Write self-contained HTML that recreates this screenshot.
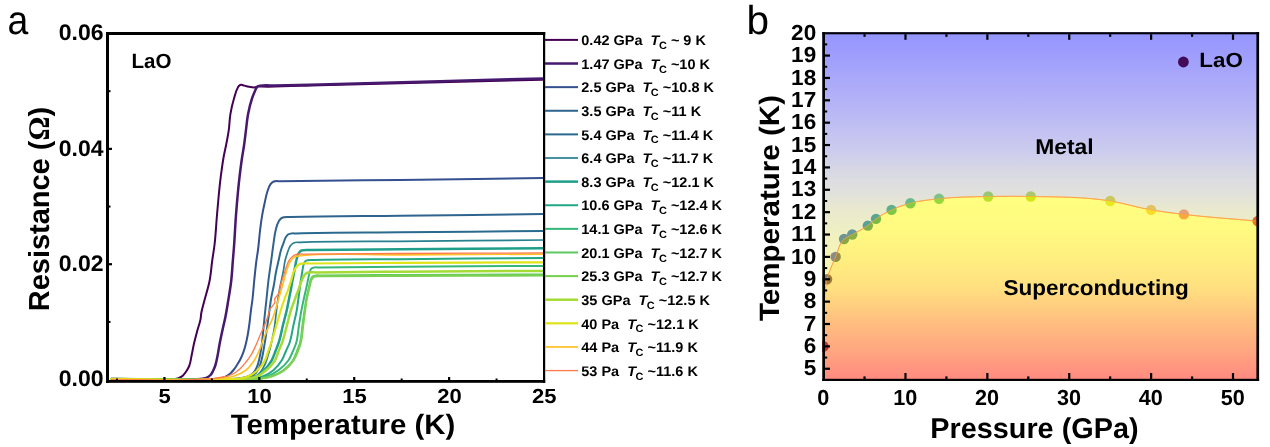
<!DOCTYPE html>
<html lang="en">
<head>
<meta charset="utf-8">
<title>LaO resistance and phase diagram</title>
<style>
html,body{margin:0;padding:0;background:#fff;}
body{width:1270px;height:447px;overflow:hidden;}
svg{display:block;will-change:transform;-webkit-font-smoothing:antialiased;text-rendering:geometricPrecision;}
text{white-space:pre;}
</style>
</head>
<body>
<svg width="1270" height="447" viewBox="0 0 1270 447" font-family='"Liberation Sans", Arial, Helvetica, sans-serif' fill="#000">
<rect x="0" y="0" width="1270" height="447" fill="#fff"/>
<g id="panel-a">
<clipPath id="clipA"><rect x="106" y="32" width="439" height="351"/></clipPath>
<g clip-path="url(#clipA)" fill="none" stroke-linejoin="round" stroke-linecap="round">
<path d="M111.5 379.1C130.33 379.13 149.18 379.95 168 379.2C170.87 379.08 173.86 379.56 176.6 378.8C177.76 378.48 178.94 378.06 180 377.5C181.07 376.93 182.09 376.2 183 375.4C184.39 374.17 185.47 372.56 186.5 371C187.54 369.43 188.47 367.73 189.2 366C190.52 362.88 190.78 359.34 191.5 356C192.36 352.01 193 347.98 193.9 344C194.96 339.3 196.25 334.65 197.5 330C198.5 326.26 199.98 322.61 200.6 318.8C200.89 317.05 200.93 315.25 201.2 313.5C201.8 309.61 203.04 305.83 204 302C205.74 295.08 208.12 288.29 209.5 281.3C210.89 274.29 211.3 267.09 212.3 260C213 255 213.87 250.01 214.5 245C215.75 235.05 216.1 224.99 217 215C218.16 202.12 219.12 189.22 220.8 176.4C221.74 169.25 222.65 162.08 224 155C224.64 151.66 225.44 148.34 226.1 145C227.09 139.95 228.09 134.89 228.8 129.8C229.53 124.59 229.54 119.28 230.4 114.1C231.27 108.85 232.46 103.6 234 98.5C235.12 94.78 235.8 90.74 237.9 87.5C238.39 86.74 238.77 85.78 239.5 85.3C239.93 85.01 240.49 84.75 241 84.7C241.65 84.63 242.34 85.02 243 85.2C243.91 85.44 244.79 85.75 245.7 86C246.79 86.3 247.89 86.58 249 86.8C249.99 87 250.99 87.2 252 87.3C252.76 87.37 253.55 87.51 254.3 87.4C254.88 87.32 255.43 87.05 256 86.9C256.59 86.75 257.2 86.59 257.8 86.5C259.18 86.3 260.6 86.57 262 86.6C281.33 87 300.67 85.67 320 85.2C360 84.22 400 83.2 440 82.2C474.5 81.34 509 80.47 543.5 79.6" stroke="#440154" stroke-width="2"/>
<path d="M111.5 379.1C139.33 379.13 167.2 380.56 195 379.2C197.5 379.08 200.06 379.28 202.5 378.8C204.02 378.5 205.62 378.18 207 377.5C208.27 376.88 209.53 376.02 210.5 375C211.57 373.89 212.27 372.39 213 371C213.93 369.25 214.65 367.37 215.3 365.5C216.36 362.44 216.84 359.18 217.5 356C218.32 352.02 218.84 347.99 219.6 344C220.49 339.32 221.5 334.66 222.5 330C223.43 325.66 224.53 321.35 225.4 317C226.39 312.03 227.18 307.01 228 302C229.15 295.01 230.38 288.03 231.2 281C232.01 274.03 232.32 267 232.9 260C233.23 256 233.59 252 233.9 248C234.76 237.01 235.15 225.99 236 215C237 202.12 238.08 189.23 239.6 176.4C240.33 170.26 241.09 164.12 242 158C242.65 153.66 243.47 149.34 244.1 145C244.83 139.95 245.35 134.86 246 129.8C246.68 124.56 247.11 119.28 248.1 114.1C249.1 108.84 250.25 103.56 252 98.5C252.91 95.86 253.93 93.24 255.1 90.7C255.55 89.72 255.91 88.69 256.5 87.8C256.88 87.23 257.25 86.53 257.8 86.2C258.35 85.87 259.13 85.92 259.8 85.8C264.78 84.91 269.93 85.61 275 85.5C290 85.19 305 84.78 320 84.4C360 83.4 400 82.27 440 81.2C474.5 80.27 509 79.33 543.5 78.4" stroke="#46186e" stroke-width="2.5"/>
<path d="M111.5 379.1C142.67 379.13 173.85 380.03 205 379.2C207.33 379.14 209.67 379.14 212 379C215.24 378.81 218.61 378.92 221.7 378C223.17 377.56 224.64 377 226 376.3C227.41 375.58 228.78 374.71 230 373.7C231.3 372.63 232.42 371.31 233.5 370C234.71 368.53 235.76 366.9 236.8 365.3C238.13 363.26 239.41 361.17 240.5 359C241.65 356.71 242.64 354.32 243.5 351.9C244.42 349.32 245.13 346.66 245.8 344C246.55 341.03 247.14 338.01 247.7 335C248.43 331.02 248.97 327.01 249.5 323C250.08 318.68 250.44 314.33 251 310C251.43 306.66 251.98 303.34 252.4 300C253.18 293.69 253.56 287.33 254.2 281C254.91 273.99 255.55 266.98 256.5 260C256.96 256.66 257.55 253.34 258 250C258.9 243.36 259.27 236.65 260.1 230C260.7 225.19 261.28 220.37 262.1 215.6C262.87 211.11 263.8 206.65 264.8 202.2C265.6 198.62 266.23 194.97 267.4 191.5C268.17 189.22 268.73 186.74 270.1 184.8C270.73 183.9 271.4 182.9 272.3 182.3C273.03 181.81 273.94 181.53 274.8 181.3C276.45 180.86 278.27 181.23 280 181.2C319.99 180.45 360 180.47 400 180C447.83 179.44 495.67 178.67 543.5 178" stroke="#34508f" stroke-width="2"/>
<path d="M111.5 379.1C149.33 379.13 187.2 380.75 225 379.2C228 379.08 231.01 379.05 234 378.8C236.61 378.59 239.23 378.38 241.8 377.9C244.06 377.47 246.44 377.16 248.5 376.2C250.3 375.36 252.14 374.22 253.5 372.8C255.01 371.22 255.98 369.03 256.9 367C258.1 364.36 258.7 361.43 259.4 358.6C260.63 353.66 261.22 348.55 261.9 343.5C262.65 337.96 263.03 332.37 263.6 326.8C264.17 321.2 264.7 315.6 265.3 310C265.66 306.67 266.04 303.33 266.4 300C267.12 293.34 267.69 286.65 268.5 280C269.32 273.32 270.39 266.67 271.3 260C271.98 255 272.57 249.99 273.3 245C273.98 240.33 274.41 235.59 275.5 231C276.02 228.82 276.45 226.57 277.3 224.5C277.91 223.02 278.51 221.45 279.5 220.2C280.08 219.47 280.72 218.69 281.5 218.2C282.23 217.74 283.15 217.52 284 217.3C285.92 216.81 288 217.16 290 217.1C326.65 215.92 363.33 216.24 400 215.8C447.83 215.22 495.67 214.6 543.5 214" stroke="#2f648e" stroke-width="2"/>
<path d="M111.5 379.1C151.67 379.13 191.93 381.87 232 379.2C235.67 378.96 239.4 379.07 243 378.4C245.71 377.9 248.55 377.41 251 376.2C252.78 375.32 254.64 374.22 256 372.8C257.51 371.22 258.48 369.03 259.4 367C260.6 364.36 261.18 361.43 261.9 358.6C263.02 354.2 263.63 349.68 264.4 345.2C265.36 339.62 266.18 334.01 267 328.4C267.89 322.28 268.65 316.13 269.5 310C270.06 306 270.51 301.98 271.2 298C271.95 293.64 273.1 289.35 273.9 285C274.7 280.68 275.16 276.31 276 272C276.78 267.98 277.79 264 278.7 260C279.46 256.67 280.01 253.27 281 250C281.74 247.56 282.69 245.18 283.6 242.8C284.34 240.86 284.76 238.71 285.9 237C286.5 236.11 287.12 235.08 288 234.5C288.72 234.03 289.65 233.81 290.5 233.6C292.26 233.16 294.17 233.46 296 233.4C330.65 232.19 365.33 232.64 400 232.3C447.83 231.82 495.67 231.43 543.5 231" stroke="#2a6a8e" stroke-width="2"/>
<path d="M111.5 379.1C153 379.13 194.63 382.34 236 379.2C240 378.9 244.1 379.02 248 378.2C251.02 377.56 254.4 377.11 256.9 375.4C258.49 374.31 259.88 372.74 261.1 371.2C262.88 368.96 264.12 366.23 265.3 363.6C266.73 360.41 267.6 356.96 268.6 353.6C269.91 349.18 271.01 344.7 272 340.2C272.97 335.76 273.8 331.29 274.5 326.8C275.26 321.89 275.69 316.93 276.3 312C276.79 308 277.22 303.99 277.8 300C278.38 295.99 279.07 291.99 279.8 288C280.86 282.24 282.36 276.56 283.4 270.8C283.99 267.54 284.25 264.22 285 261C285.6 258.44 286.36 255.9 287.2 253.4C287.75 251.75 288.25 250.07 289 248.5C289.47 247.51 289.93 246.47 290.6 245.6C291.17 244.86 291.83 244.12 292.6 243.6C293.34 243.1 294.24 242.75 295.1 242.5C296.65 242.05 298.37 242.36 300 242.3C333.31 240.99 366.67 241.62 400 241.3C447.83 240.84 495.67 240.43 543.5 240" stroke="#26808e" stroke-width="1.7"/>
<path d="M111.5 379.1C153.67 379.13 195.86 380.76 238 379.2C241.33 379.08 244.74 379.38 248 378.8C251.07 378.26 254.29 377.47 257 376C259.6 374.59 261.87 372.4 264 370.3C266.97 367.36 269.68 363.95 271.7 360.3C273.31 357.4 274.27 354.11 275.5 351C276.49 348.51 277.53 346.03 278.4 343.5C280.47 337.5 281.45 331.16 283 325C284.26 320 285.68 315.03 286.8 310C287.69 306.02 288.4 302 289.2 298C289.73 295.33 290.31 292.67 290.8 290C291.23 287.67 291.58 285.33 292 283C292.77 278.72 293.66 274.47 294.5 270.2C295.23 266.47 295.61 262.63 296.7 259C297.34 256.87 297.65 254.42 299 252.7C299.61 251.92 300.32 251 301.2 250.6C301.88 250.29 302.73 250.3 303.5 250.2C305.64 249.92 307.83 250.13 310 250.1C340 249.65 370 249.55 400 249.3C447.83 248.9 495.67 248.57 543.5 248.2" stroke="#1f9e89" stroke-width="2.5"/>
<path d="M111.5 379.1C155.33 379.13 199.22 381.2 243 379.2C247 379.02 251.09 379.31 255 378.6C258.05 378.04 261.15 377.21 264 376C267.34 374.58 270.62 372.61 273.4 370.3C276.7 367.55 279.57 363.99 281.8 360.3C283.55 357.42 284.62 354.11 286 351C287.11 348.5 288.35 346.05 289.3 343.5C291.5 337.6 292.12 331.17 293.5 325C294.61 320 295.91 315.04 296.8 310C297.5 306.02 297.96 302 298.5 298C298.95 294.67 299.35 291.33 299.8 288C300.25 284.66 300.68 281.33 301.2 278C301.6 275.4 301.99 272.79 302.5 270.2C302.94 267.96 302.99 265.52 304 263.5C304.44 262.63 304.83 261.54 305.6 261C306.12 260.63 306.86 260.48 307.5 260.3C309.57 259.71 311.83 260.16 314 260.1C342.66 259.26 371.33 259.48 400 259.2C447.83 258.72 495.67 258.33 543.5 257.9" stroke="#22a884" stroke-width="2"/>
<path d="M111.5 379.1C156 379.13 200.54 381.07 245 379.2C249.33 379.02 253.74 379.3 258 378.6C261.38 378.05 264.81 377.23 268 376C271.66 374.58 275.23 372.6 278.4 370.3C282.2 367.54 285.89 364.17 288.5 360.3C290.4 357.48 291.62 354.15 293 351C294.08 348.53 295.17 346.05 296 343.5C297.92 337.59 297.99 331.16 299 325C299.82 320 300.56 314.98 301.5 310C302.26 305.99 303.12 301.99 304 298C304.74 294.66 305.57 291.34 306.3 288C307.07 284.51 307.69 280.98 308.5 277.5C309.03 275.19 309.13 272.69 310.2 270.6C310.57 269.87 310.9 269.01 311.5 268.5C312.03 268.05 312.82 267.83 313.5 267.6C315.52 266.93 317.83 267.53 320 267.5C346.66 267.1 373.33 267.01 400 266.8C447.83 266.42 495.67 266.2 543.5 265.9" stroke="#35b779" stroke-width="2"/>
<path d="M111.5 379.1C156.67 379.13 201.88 381.1 247 379.2C251.33 379.02 255.71 379.17 260 378.6C264.04 378.06 268.17 377.35 272 376C275.84 374.65 279.7 372.84 283 370.5C286.6 367.94 290.07 364.67 292.5 361C294.49 358 295.63 354.39 297 351C298 348.53 299.03 346.04 299.8 343.5C301.6 337.56 301.62 331.17 302.5 325C303.21 320 303.85 314.99 304.6 310C305.2 306 305.71 301.97 306.5 298C307.03 295.32 307.7 292.67 308.3 290C308.7 288.2 309.06 286.39 309.5 284.6C309.96 282.72 310.11 280.69 311 279C311.48 278.08 311.98 276.98 312.8 276.4C313.41 275.97 314.25 275.8 315 275.6C317.23 274.99 319.67 275.53 322 275.5C348 275.15 374 275.15 400 275C447.83 274.73 495.67 274.6 543.5 274.4" stroke="#5ec962" stroke-width="2"/>
<path d="M111.5 379.1C157 379.13 202.54 381.11 248 379.2C252.33 379.02 256.71 379.17 261 378.6C265.04 378.06 269.18 377.37 273 376C276.85 374.62 280.72 372.72 284 370.3C287.65 367.61 291 364.09 293.5 360.3C295.37 357.46 296.71 354.19 298 351C298.99 348.55 299.88 346.04 300.6 343.5C302.29 337.53 302.36 331.17 303.2 325C303.88 320 304.49 314.99 305.2 310C305.77 306 306.21 301.96 307 298C307.47 295.65 308.05 293.33 308.6 291C308.99 289.33 309.37 287.66 309.8 286C310.35 283.85 310.53 281.5 311.6 279.6C312.1 278.72 312.59 277.63 313.4 277.1C314.06 276.67 314.99 276.58 315.8 276.4C318.13 275.89 320.6 276.33 323 276.3C348.66 275.96 374.33 276.01 400 275.9C447.83 275.69 495.67 275.63 543.5 275.5" stroke="#7ad151" stroke-width="2.1"/>
<path d="M111.5 379.1C153 379.13 194.55 381.09 236 379.2C240 379.02 244.07 379.23 248 378.6C251.38 378.05 254.94 377.45 258 376C260.91 374.62 263.53 372.43 266 370.3C269.38 367.39 272.79 364.12 275 360.3C276.64 357.47 277.34 354.08 278.6 351C279.63 348.48 280.83 346.03 281.8 343.5C284.08 337.53 285.31 331.18 287 325C288.36 320.01 289.42 314.92 291 310C292.19 306.29 293.64 302.66 295 299C296.12 295.99 297.3 293.01 298.4 290C299.57 286.78 300.39 283.41 301.8 280.3C302.64 278.46 303.29 276.42 304.6 274.9C305.16 274.25 305.76 273.5 306.5 273.1C307.23 272.71 308.16 272.65 309 272.5C311.29 272.09 313.67 272.43 316 272.4C344 272.01 372 271.9 400 271.7C447.83 271.35 495.67 271.17 543.5 270.9" stroke="#a5db36" stroke-width="2.5"/>
<path d="M111.5 379.1C150.33 379.13 189.21 380.95 228 379.2C232 379.02 236.09 379.33 240 378.6C243.4 377.97 246.92 377.04 250 375.5C252.69 374.15 255.28 372.33 257.5 370.3C260.53 367.52 263.12 363.96 265 360.3C266.49 357.41 267.21 354.1 268.3 351C269.17 348.5 270.06 346.01 270.9 343.5C272.94 337.39 274.66 331.18 276.5 325C277.99 320.01 279.34 314.97 280.9 310C282.05 306.32 283.2 302.63 284.5 299C285.71 295.63 287.21 292.37 288.4 289C289.41 286.13 290.3 283.21 291.2 280.3C292.13 277.31 292.54 274.09 293.9 271.3C294.82 269.4 295.78 267.35 297.3 265.9C297.96 265.27 298.68 264.58 299.5 264.2C300.26 263.84 301.16 263.75 302 263.6C304.61 263.12 307.33 263.53 310 263.5C340 263.14 370 263.07 400 262.9C447.83 262.63 495.67 262.5 543.5 262.3" stroke="#dfe318" stroke-width="2.2"/>
<path d="M111.5 379.4C142.67 379.37 173.87 380.82 205 379.3C208.67 379.12 212.34 378.97 216 378.7C219 378.48 222.02 378.34 225 377.9C227.82 377.49 230.67 377.01 233.4 376.2C236.28 375.34 239.2 374.28 241.8 372.8C244.2 371.43 246.5 369.71 248.5 367.8C250.78 365.62 252.69 362.96 254.4 360.3C256.42 357.16 257.92 353.65 259.4 350.2C261.03 346.4 262.09 342.36 263.6 338.5C265.15 334.55 266.84 330.66 268.6 326.8C269.95 323.84 271.6 321.01 272.8 318C274.1 314.76 274.98 311.35 276 308C277.42 303.36 278.67 298.67 280 294C281.33 289.33 282.65 284.66 284 280C285.16 276 286.04 271.89 287.5 268C288.39 265.63 289.07 263.06 290.5 261C291.35 259.77 292.29 258.44 293.5 257.6C294.52 256.89 295.79 256.42 297 256.1C298.28 255.76 299.67 255.83 301 255.7C333.84 252.53 367 255.13 400 254.9C447.83 254.56 495.67 254.37 543.5 254.1" stroke="#ffc125" stroke-width="1.7"/>
<path d="M111.5 379.6C141 379.57 170.58 381.52 200 379.5C205 379.16 210.03 378.93 215 378.3C217.81 377.94 220.64 377.62 223.4 377C226.24 376.36 229.19 375.72 231.8 374.5C234.82 373.09 237.62 370.95 240.1 368.7C242.29 366.71 244.14 364.32 246 362C247.76 359.81 249.52 357.58 251 355.2C252.63 352.57 253.88 349.7 255.2 346.9C257.02 343.04 258.51 339.02 260.2 335.1C261.88 331.19 263.75 327.36 265.3 323.4C266.45 320.47 267.58 317.51 268.5 314.5C269.05 312.68 269.07 310.61 270 309C270.57 308.02 271.51 307.23 272.2 306.3C273.24 304.88 274.92 303.47 275 301.8C275.03 301.07 274.58 300.23 274.6 299.5C274.64 297.4 277.44 295.97 278.4 294C279.73 291.27 279.78 287.98 280.6 285C281.87 280.38 283.6 275.89 285 271.3C285.51 269.64 285.91 267.94 286.5 266.3C287.18 264.39 287.82 262.39 288.9 260.7C289.94 259.07 291.26 257.48 292.8 256.3C293.49 255.78 294.21 255.25 295 254.9C295.78 254.55 296.66 254.38 297.5 254.2C299.93 253.69 302.5 254.13 305 254.1C336.66 253.69 368.33 253.67 400 253.5C447.83 253.24 495.67 253.1 543.5 252.9" stroke="#ff7a4a" stroke-width="1.3"/>
</g>
<g fill="#000" stroke="none">
<rect x="106" y="32" width="3" height="351"/>
<rect x="543" y="32" width="2.2" height="351"/>
<rect x="106" y="32" width="439.2" height="3"/>
<rect x="106" y="380" width="439.2" height="2.8"/>
<rect x="109" y="263.13" width="3" height="2.2"/>
<rect x="109" y="147.77" width="3" height="2.2"/>
<rect x="109" y="320.92" width="1.5" height="2"/>
<rect x="109" y="205.55" width="1.5" height="2"/>
<rect x="109" y="90.18" width="1.5" height="2"/>
<rect x="163.33" y="377" width="2.2" height="3.2"/>
<rect x="258.23" y="377" width="2.2" height="3.2"/>
<rect x="353.12" y="377" width="2.2" height="3.2"/>
<rect x="448.01" y="377" width="2.2" height="3.2"/>
<rect x="115.99" y="378.5" width="2" height="1.7"/>
<rect x="210.88" y="378.5" width="2" height="1.7"/>
<rect x="305.77" y="378.5" width="2" height="1.7"/>
<rect x="400.66" y="378.5" width="2" height="1.7"/>
<rect x="495.55" y="378.5" width="2" height="1.7"/>
</g>
<rect x="545" y="38.9" width="33" height="2" fill="#440154"/>
<text transform="translate(581.3 45.1) scale(1.035 1)" font-size="14" font-weight="bold" xml:space="preserve">0.42 GPa  <tspan font-style="italic">T</tspan><tspan font-size="10.6" dy="3.9" dx="-0.5">C</tspan><tspan dy="-3.9"> ~ 9 K</tspan></text>
<rect x="545" y="62.27" width="33" height="2.5" fill="#46186e"/>
<text transform="translate(581.3 68.72) scale(1.035 1)" font-size="14" font-weight="bold" xml:space="preserve">1.47 GPa  <tspan font-style="italic">T</tspan><tspan font-size="10.6" dy="3.9" dx="-0.5">C</tspan><tspan dy="-3.9"> ~10 K</tspan></text>
<rect x="545" y="86.14" width="33" height="2" fill="#34508f"/>
<text transform="translate(581.3 92.34) scale(1.035 1)" font-size="14" font-weight="bold" xml:space="preserve">2.5 GPa  <tspan font-style="italic">T</tspan><tspan font-size="10.6" dy="3.9" dx="-0.5">C</tspan><tspan dy="-3.9"> ~10.8 K</tspan></text>
<rect x="545" y="109.76" width="33" height="2" fill="#2f648e"/>
<text transform="translate(581.3 115.96) scale(1.035 1)" font-size="14" font-weight="bold" xml:space="preserve">3.5 GPa  <tspan font-style="italic">T</tspan><tspan font-size="10.6" dy="3.9" dx="-0.5">C</tspan><tspan dy="-3.9"> ~11 K</tspan></text>
<rect x="545" y="133.38" width="33" height="2" fill="#2a6a8e"/>
<text transform="translate(581.3 139.58) scale(1.035 1)" font-size="14" font-weight="bold" xml:space="preserve">5.4 GPa  <tspan font-style="italic">T</tspan><tspan font-size="10.6" dy="3.9" dx="-0.5">C</tspan><tspan dy="-3.9"> ~11.4 K</tspan></text>
<rect x="545" y="157.15" width="33" height="1.7" fill="#26808e"/>
<text transform="translate(581.3 163.2) scale(1.035 1)" font-size="14" font-weight="bold" xml:space="preserve">6.4 GPa  <tspan font-style="italic">T</tspan><tspan font-size="10.6" dy="3.9" dx="-0.5">C</tspan><tspan dy="-3.9"> ~11.7 K</tspan></text>
<rect x="545" y="180.37" width="33" height="2.5" fill="#1f9e89"/>
<text transform="translate(581.3 186.82) scale(1.035 1)" font-size="14" font-weight="bold" xml:space="preserve">8.3 GPa  <tspan font-style="italic">T</tspan><tspan font-size="10.6" dy="3.9" dx="-0.5">C</tspan><tspan dy="-3.9"> ~12.1 K</tspan></text>
<rect x="545" y="204.24" width="33" height="2" fill="#22a884"/>
<text transform="translate(581.3 210.44) scale(1.035 1)" font-size="14" font-weight="bold" xml:space="preserve">10.6 GPa  <tspan font-style="italic">T</tspan><tspan font-size="10.6" dy="3.9" dx="-0.5">C</tspan><tspan dy="-3.9"> ~12.4 K</tspan></text>
<rect x="545" y="227.86" width="33" height="2" fill="#35b779"/>
<text transform="translate(581.3 234.06) scale(1.035 1)" font-size="14" font-weight="bold" xml:space="preserve">14.1 GPa  <tspan font-style="italic">T</tspan><tspan font-size="10.6" dy="3.9" dx="-0.5">C</tspan><tspan dy="-3.9"> ~12.6 K</tspan></text>
<rect x="545" y="251.48" width="33" height="2" fill="#5ec962"/>
<text transform="translate(581.3 257.68) scale(1.035 1)" font-size="14" font-weight="bold" xml:space="preserve">20.1 GPa  <tspan font-style="italic">T</tspan><tspan font-size="10.6" dy="3.9" dx="-0.5">C</tspan><tspan dy="-3.9"> ~12.7 K</tspan></text>
<rect x="545" y="275.05" width="33" height="2.1" fill="#7ad151"/>
<text transform="translate(581.3 281.3) scale(1.035 1)" font-size="14" font-weight="bold" xml:space="preserve">25.3 GPa  <tspan font-style="italic">T</tspan><tspan font-size="10.6" dy="3.9" dx="-0.5">C</tspan><tspan dy="-3.9"> ~12.7 K</tspan></text>
<rect x="545" y="298.47" width="33" height="2.5" fill="#a5db36"/>
<text transform="translate(581.3 304.92) scale(1.035 1)" font-size="14" font-weight="bold" xml:space="preserve">35 GPa  <tspan font-style="italic">T</tspan><tspan font-size="10.6" dy="3.9" dx="-0.5">C</tspan><tspan dy="-3.9"> ~12.5 K</tspan></text>
<rect x="545" y="322.24" width="33" height="2.2" fill="#dfe318"/>
<text transform="translate(581.3 328.54) scale(1.035 1)" font-size="14" font-weight="bold" xml:space="preserve">40 Pa  <tspan font-style="italic">T</tspan><tspan font-size="10.6" dy="3.9" dx="-0.5">C</tspan><tspan dy="-3.9"> ~12.1 K</tspan></text>
<rect x="545" y="346.11" width="33" height="1.7" fill="#ffc125"/>
<text transform="translate(581.3 352.16) scale(1.035 1)" font-size="14" font-weight="bold" xml:space="preserve">44 Pa  <tspan font-style="italic">T</tspan><tspan font-size="10.6" dy="3.9" dx="-0.5">C</tspan><tspan dy="-3.9"> ~11.9 K</tspan></text>
<rect x="545" y="369.93" width="33" height="1.3" fill="#ff7a4a"/>
<text transform="translate(581.3 375.78) scale(1.035 1)" font-size="14" font-weight="bold" xml:space="preserve">53 Pa  <tspan font-style="italic">T</tspan><tspan font-size="10.6" dy="3.9" dx="-0.5">C</tspan><tspan dy="-3.9"> ~11.6 K</tspan></text>
<text x="7.6" y="33.8" font-size="40.5" font-weight="normal" text-anchor="start" textLength="20.8" lengthAdjust="spacingAndGlyphs">a</text>
<text x="103.5" y="40.2" font-size="22.6" font-weight="bold" text-anchor="end" textLength="44.8" lengthAdjust="spacingAndGlyphs">0.06</text>
<text x="103.5" y="155.57" font-size="22.6" font-weight="bold" text-anchor="end" textLength="44.8" lengthAdjust="spacingAndGlyphs">0.04</text>
<text x="103.5" y="270.93" font-size="22.6" font-weight="bold" text-anchor="end" textLength="44.8" lengthAdjust="spacingAndGlyphs">0.02</text>
<text x="103.5" y="386.3" font-size="22.6" font-weight="bold" text-anchor="end" textLength="44.8" lengthAdjust="spacingAndGlyphs">0.00</text>
<text x="164.73" y="403.2" font-size="20.3" font-weight="bold" text-anchor="middle" textLength="12.25" lengthAdjust="spacingAndGlyphs">5</text>
<text x="259.63" y="403.2" font-size="20.3" font-weight="bold" text-anchor="middle" textLength="24.5" lengthAdjust="spacingAndGlyphs">10</text>
<text x="354.52" y="403.2" font-size="20.3" font-weight="bold" text-anchor="middle" textLength="24.5" lengthAdjust="spacingAndGlyphs">15</text>
<text x="449.41" y="403.2" font-size="20.3" font-weight="bold" text-anchor="middle" textLength="24.5" lengthAdjust="spacingAndGlyphs">20</text>
<text x="544.3" y="403.2" font-size="20.3" font-weight="bold" text-anchor="middle" textLength="24.5" lengthAdjust="spacingAndGlyphs">25</text>
<text x="343" y="434.4" font-size="28" font-weight="bold" text-anchor="middle" textLength="224.5" lengthAdjust="spacingAndGlyphs">Temperature (K)</text>
<text x="49.2" y="209.1" font-size="29" font-weight="bold" text-anchor="middle" textLength="204.3" lengthAdjust="spacingAndGlyphs" transform="rotate(-90 49.2 209.1)">Resistance (<tspan font-family='"Liberation Serif", "DejaVu Serif", serif' font-size="30">Ω</tspan>)</text>
<text x="131.5" y="68.2" font-size="20.6" font-weight="bold" text-anchor="start" textLength="40" lengthAdjust="spacingAndGlyphs">LaO</text>
</g>
<g id="panel-b">
<defs>
<linearGradient id="gMetal" gradientUnits="userSpaceOnUse" x1="0" y1="33" x2="0" y2="380">
<stop offset="0" stop-color="rgb(148,148,255)"/>
<stop offset="0.22" stop-color="rgb(184,182,246)"/>
<stop offset="0.34" stop-color="rgb(204,204,238)"/>
<stop offset="0.39" stop-color="rgb(214,214,229)"/>
<stop offset="0.43" stop-color="rgb(221,221,226)"/>
<stop offset="0.47" stop-color="rgb(226,226,218)"/>
<stop offset="0.5" stop-color="rgb(232,232,208)"/>
<stop offset="0.6" stop-color="rgb(242,242,190)"/>
<stop offset="0.71" stop-color="rgb(250,246,170)"/>
<stop offset="1" stop-color="rgb(255,200,150)"/>
</linearGradient>
<linearGradient id="gSC" gradientUnits="userSpaceOnUse" x1="0" y1="196" x2="0" y2="380">
<stop offset="0" stop-color="rgb(255,255,128)"/>
<stop offset="0.18" stop-color="rgb(255,250,128)"/>
<stop offset="0.35" stop-color="rgb(255,238,128)"/>
<stop offset="0.51" stop-color="rgb(255,222,128)"/>
<stop offset="0.67" stop-color="rgb(255,193,128)"/>
<stop offset="0.83" stop-color="rgb(255,168,128)"/>
<stop offset="1" stop-color="rgb(255,138,128)"/>
</linearGradient>
<clipPath id="clipB"><rect x="822.3" y="32.2" width="436.7" height="348.8"/></clipPath>
</defs>
<rect x="822.3" y="32.2" width="436.7" height="348.8" fill="url(#gMetal)"/>
<clipPath id="clipSC"><path d="M823.6 346.38C823.74 334.45 823.33 322.49 824.01 310.59C824.6 300.13 824.47 289.34 827.04 279.27C829 271.6 832.47 264.23 835.64 256.9C838.25 250.85 839.24 243.06 844.07 239C846.35 237.09 849.54 236.04 852.26 234.53C857.49 231.62 862.98 229.07 867.82 225.58C870.67 223.52 873.15 220.93 876 218.87C880.84 215.38 886.16 212.44 891.56 209.92C897.57 207.11 903.99 204.96 910.39 203.21C919.68 200.68 929.46 199.84 939.05 198.74C955.31 196.87 971.79 196.85 988.18 196.5C1002.36 196.2 1016.57 196.22 1030.76 196.5C1057.26 197.02 1084.08 196.75 1110.18 200.98C1123.93 203.2 1137.37 207.55 1151.12 209.92C1161.97 211.79 1172.94 213.06 1183.87 214.4C1208.35 217.4 1233 218.87 1257.56 221.11L1257.56 386L823.6 386Z"/></clipPath>
<clipPath id="clipMT"><path clip-rule="evenodd" d="M812.3 22.2H1269V391H812.3Z M823.6 346.38C823.74 334.45 823.33 322.49 824.01 310.59C824.6 300.13 824.47 289.34 827.04 279.27C829 271.6 832.47 264.23 835.64 256.9C838.25 250.85 839.24 243.06 844.07 239C846.35 237.09 849.54 236.04 852.26 234.53C857.49 231.62 862.98 229.07 867.82 225.58C870.67 223.52 873.15 220.93 876 218.87C880.84 215.38 886.16 212.44 891.56 209.92C897.57 207.11 903.99 204.96 910.39 203.21C919.68 200.68 929.46 199.84 939.05 198.74C955.31 196.87 971.79 196.85 988.18 196.5C1002.36 196.2 1016.57 196.22 1030.76 196.5C1057.26 197.02 1084.08 196.75 1110.18 200.98C1123.93 203.2 1137.37 207.55 1151.12 209.92C1161.97 211.79 1172.94 213.06 1183.87 214.4C1208.35 217.4 1233 218.87 1257.56 221.11L1257.56 386L823.6 386Z"/></clipPath>
<g clip-path="url(#clipB)">
<path d="M823.6 346.38C823.74 334.45 823.33 322.49 824.01 310.59C824.6 300.13 824.47 289.34 827.04 279.27C829 271.6 832.47 264.23 835.64 256.9C838.25 250.85 839.24 243.06 844.07 239C846.35 237.09 849.54 236.04 852.26 234.53C857.49 231.62 862.98 229.07 867.82 225.58C870.67 223.52 873.15 220.93 876 218.87C880.84 215.38 886.16 212.44 891.56 209.92C897.57 207.11 903.99 204.96 910.39 203.21C919.68 200.68 929.46 199.84 939.05 198.74C955.31 196.87 971.79 196.85 988.18 196.5C1002.36 196.2 1016.57 196.22 1030.76 196.5C1057.26 197.02 1084.08 196.75 1110.18 200.98C1123.93 203.2 1137.37 207.55 1151.12 209.92C1161.97 211.79 1172.94 213.06 1183.87 214.4C1208.35 217.4 1233 218.87 1257.56 221.11L1257.56 386L823.6 386Z" fill="url(#gSC)" stroke="none"/>
<path d="M823.6 346.38C823.74 334.45 823.33 322.49 824.01 310.59C824.6 300.13 824.47 289.34 827.04 279.27C829 271.6 832.47 264.23 835.64 256.9C838.25 250.85 839.24 243.06 844.07 239C846.35 237.09 849.54 236.04 852.26 234.53C857.49 231.62 862.98 229.07 867.82 225.58C870.67 223.52 873.15 220.93 876 218.87C880.84 215.38 886.16 212.44 891.56 209.92C897.57 207.11 903.99 204.96 910.39 203.21C919.68 200.68 929.46 199.84 939.05 198.74C955.31 196.87 971.79 196.85 988.18 196.5C1002.36 196.2 1016.57 196.22 1030.76 196.5C1057.26 197.02 1084.08 196.75 1110.18 200.98C1123.93 203.2 1137.37 207.55 1151.12 209.92C1161.97 211.79 1172.94 213.06 1183.87 214.4C1208.35 217.4 1233 218.87 1257.56 221.11" fill="none" stroke="#ffa448" stroke-width="1"/>
<circle cx="823.2" cy="346.38" r="5.5" fill="#be3232"/>
<g clip-path="url(#clipMT)">
<circle cx="827.04" cy="279.27" r="5.2" fill="#8a7a68"/>
<circle cx="835.64" cy="256.9" r="5.2" fill="#8c8c86"/>
<circle cx="844.07" cy="239" r="5.2" fill="#6e9494"/>
<circle cx="852.26" cy="234.53" r="5.2" fill="#66989a"/>
<circle cx="867.82" cy="225.58" r="5.2" fill="#5aa096"/>
<circle cx="876" cy="218.87" r="5.2" fill="#5aa591"/>
<circle cx="891.56" cy="209.92" r="5.2" fill="#5faf8c"/>
<circle cx="910.39" cy="203.21" r="5.2" fill="#69b98c"/>
<circle cx="939.05" cy="198.74" r="5.2" fill="#7dc387"/>
<circle cx="988.18" cy="196.5" r="5.2" fill="#96c874"/>
<circle cx="1030.76" cy="196.5" r="5.2" fill="#aac86e"/>
<circle cx="1110.18" cy="200.98" r="5.2" fill="#c8c860"/>
<circle cx="1151.12" cy="209.92" r="5.2" fill="#e1c364"/>
<circle cx="1183.87" cy="214.4" r="5.2" fill="#e6a078"/>
<circle cx="1257.56" cy="221.11" r="5.2" fill="#d76432"/>
</g>
<g clip-path="url(#clipSC)">
<circle cx="827.04" cy="279.27" r="5.2" fill="#9c7838"/>
<circle cx="835.64" cy="256.9" r="5.2" fill="#968c48"/>
<circle cx="844.07" cy="239" r="5.2" fill="#8ca548"/>
<circle cx="852.26" cy="234.53" r="5.2" fill="#8aae48"/>
<circle cx="867.82" cy="225.58" r="5.2" fill="#82af46"/>
<circle cx="876" cy="218.87" r="5.2" fill="#7db946"/>
<circle cx="891.56" cy="209.92" r="5.2" fill="#7dc846"/>
<circle cx="910.39" cy="203.21" r="5.2" fill="#82cd41"/>
<circle cx="939.05" cy="198.74" r="5.2" fill="#96d73c"/>
<circle cx="988.18" cy="196.5" r="5.2" fill="#b8e228"/>
<circle cx="1030.76" cy="196.5" r="5.2" fill="#d2e814"/>
<circle cx="1110.18" cy="200.98" r="5.2" fill="#e8e820"/>
<circle cx="1151.12" cy="209.92" r="5.2" fill="#fadc28"/>
<circle cx="1183.87" cy="214.4" r="5.2" fill="#faaa3c"/>
<circle cx="1257.56" cy="221.11" r="5.2" fill="#eb781e"/>
</g>
<path d="M823.6 346.38C823.74 334.45 823.33 322.49 824.01 310.59C824.6 300.13 824.47 289.34 827.04 279.27C829 271.6 832.47 264.23 835.64 256.9C838.25 250.85 839.24 243.06 844.07 239C846.35 237.09 849.54 236.04 852.26 234.53C857.49 231.62 862.98 229.07 867.82 225.58C870.67 223.52 873.15 220.93 876 218.87C880.84 215.38 886.16 212.44 891.56 209.92C897.57 207.11 903.99 204.96 910.39 203.21C919.68 200.68 929.46 199.84 939.05 198.74C955.31 196.87 971.79 196.85 988.18 196.5C1002.36 196.2 1016.57 196.22 1030.76 196.5C1057.26 197.02 1084.08 196.75 1110.18 200.98C1123.93 203.2 1137.37 207.55 1151.12 209.92C1161.97 211.79 1172.94 213.06 1183.87 214.4C1208.35 217.4 1233 218.87 1257.56 221.11" fill="none" stroke="#ffa448" stroke-width="1" stroke-opacity="0.55"/>
</g>
<g fill="#000">
<rect x="822.3" y="32.2" width="2.7" height="348.8"/>
<rect x="1256.4" y="32.2" width="2.7" height="348.8"/>
<rect x="822.3" y="32.2" width="436.8" height="2.1"/>
<rect x="822.3" y="378.8" width="436.8" height="2.2"/>
<rect x="825" y="367.65" width="5" height="2.2"/>
<rect x="825" y="345.28" width="5" height="2.2"/>
<rect x="825" y="322.91" width="5" height="2.2"/>
<rect x="825" y="300.54" width="5" height="2.2"/>
<rect x="825" y="278.17" width="5" height="2.2"/>
<rect x="825" y="255.8" width="5" height="2.2"/>
<rect x="825" y="233.43" width="5" height="2.2"/>
<rect x="825" y="211.06" width="5" height="2.2"/>
<rect x="825" y="188.69" width="5" height="2.2"/>
<rect x="825" y="166.32" width="5" height="2.2"/>
<rect x="825" y="143.95" width="5" height="2.2"/>
<rect x="825" y="121.58" width="5" height="2.2"/>
<rect x="825" y="99.21" width="5" height="2.2"/>
<rect x="825" y="76.84" width="5" height="2.2"/>
<rect x="825" y="54.47" width="5" height="2.2"/>
<rect x="825" y="356.56" width="2.2" height="2"/>
<rect x="825" y="334.19" width="2.2" height="2"/>
<rect x="825" y="311.82" width="2.2" height="2"/>
<rect x="825" y="289.45" width="2.2" height="2"/>
<rect x="825" y="267.09" width="2.2" height="2"/>
<rect x="825" y="244.72" width="2.2" height="2"/>
<rect x="825" y="222.35" width="2.2" height="2"/>
<rect x="825" y="199.98" width="2.2" height="2"/>
<rect x="825" y="177.61" width="2.2" height="2"/>
<rect x="825" y="155.24" width="2.2" height="2"/>
<rect x="825" y="132.87" width="2.2" height="2"/>
<rect x="825" y="110.5" width="2.2" height="2"/>
<rect x="825" y="88.12" width="2.2" height="2"/>
<rect x="825" y="65.75" width="2.2" height="2"/>
<rect x="825" y="43.39" width="2.2" height="2"/>
<rect x="904.38" y="373" width="2.2" height="6"/>
<rect x="904.38" y="34.2" width="2.2" height="5.6"/>
<rect x="986.26" y="373" width="2.2" height="6"/>
<rect x="986.26" y="34.2" width="2.2" height="5.6"/>
<rect x="1068.14" y="373" width="2.2" height="6"/>
<rect x="1068.14" y="34.2" width="2.2" height="5.6"/>
<rect x="1150.02" y="373" width="2.2" height="6"/>
<rect x="1150.02" y="34.2" width="2.2" height="5.6"/>
<rect x="1231.9" y="373" width="2.2" height="6"/>
<rect x="1231.9" y="34.2" width="2.2" height="5.6"/>
<rect x="863.44" y="376.4" width="2.2" height="2.6"/>
<rect x="863.44" y="34.2" width="2.2" height="2.6"/>
<rect x="945.32" y="376.4" width="2.2" height="2.6"/>
<rect x="945.32" y="34.2" width="2.2" height="2.6"/>
<rect x="1027.2" y="376.4" width="2.2" height="2.6"/>
<rect x="1027.2" y="34.2" width="2.2" height="2.6"/>
<rect x="1109.08" y="376.4" width="2.2" height="2.6"/>
<rect x="1109.08" y="34.2" width="2.2" height="2.6"/>
<rect x="1190.96" y="376.4" width="2.2" height="2.6"/>
<rect x="1190.96" y="34.2" width="2.2" height="2.6"/>
</g>
<text x="746.5" y="33.7" font-size="40.5" font-weight="normal" text-anchor="start">b</text>
<text x="816.2" y="375.35" font-size="21.8" font-weight="bold" text-anchor="end" textLength="12.55" lengthAdjust="spacingAndGlyphs">5</text>
<text x="816.2" y="352.98" font-size="21.8" font-weight="bold" text-anchor="end" textLength="12.55" lengthAdjust="spacingAndGlyphs">6</text>
<text x="816.2" y="330.61" font-size="21.8" font-weight="bold" text-anchor="end" textLength="12.55" lengthAdjust="spacingAndGlyphs">7</text>
<text x="816.2" y="308.24" font-size="21.8" font-weight="bold" text-anchor="end" textLength="12.55" lengthAdjust="spacingAndGlyphs">8</text>
<text x="816.2" y="285.87" font-size="21.8" font-weight="bold" text-anchor="end" textLength="12.55" lengthAdjust="spacingAndGlyphs">9</text>
<text x="816.2" y="263.5" font-size="21.8" font-weight="bold" text-anchor="end" textLength="25.09" lengthAdjust="spacingAndGlyphs">10</text>
<text x="816.2" y="241.13" font-size="21.8" font-weight="bold" text-anchor="end" textLength="25.09" lengthAdjust="spacingAndGlyphs">11</text>
<text x="816.2" y="218.76" font-size="21.8" font-weight="bold" text-anchor="end" textLength="25.09" lengthAdjust="spacingAndGlyphs">12</text>
<text x="816.2" y="196.39" font-size="21.8" font-weight="bold" text-anchor="end" textLength="25.09" lengthAdjust="spacingAndGlyphs">13</text>
<text x="816.2" y="174.02" font-size="21.8" font-weight="bold" text-anchor="end" textLength="25.09" lengthAdjust="spacingAndGlyphs">14</text>
<text x="816.2" y="151.65" font-size="21.8" font-weight="bold" text-anchor="end" textLength="25.09" lengthAdjust="spacingAndGlyphs">15</text>
<text x="816.2" y="129.28" font-size="21.8" font-weight="bold" text-anchor="end" textLength="25.09" lengthAdjust="spacingAndGlyphs">16</text>
<text x="816.2" y="106.91" font-size="21.8" font-weight="bold" text-anchor="end" textLength="25.09" lengthAdjust="spacingAndGlyphs">17</text>
<text x="816.2" y="84.54" font-size="21.8" font-weight="bold" text-anchor="end" textLength="25.09" lengthAdjust="spacingAndGlyphs">18</text>
<text x="816.2" y="62.17" font-size="21.8" font-weight="bold" text-anchor="end" textLength="25.09" lengthAdjust="spacingAndGlyphs">19</text>
<text x="816.2" y="39.8" font-size="21.8" font-weight="bold" text-anchor="end" textLength="25.09" lengthAdjust="spacingAndGlyphs">20</text>
<text x="823.3" y="405.1" font-size="21.8" font-weight="bold" text-anchor="middle" textLength="12.03" lengthAdjust="spacingAndGlyphs">0</text>
<text x="905.18" y="405.1" font-size="21.8" font-weight="bold" text-anchor="middle" textLength="24.06" lengthAdjust="spacingAndGlyphs">10</text>
<text x="987.06" y="405.1" font-size="21.8" font-weight="bold" text-anchor="middle" textLength="24.06" lengthAdjust="spacingAndGlyphs">20</text>
<text x="1068.94" y="405.1" font-size="21.8" font-weight="bold" text-anchor="middle" textLength="24.06" lengthAdjust="spacingAndGlyphs">30</text>
<text x="1150.82" y="405.1" font-size="21.8" font-weight="bold" text-anchor="middle" textLength="24.06" lengthAdjust="spacingAndGlyphs">40</text>
<text x="1232.7" y="405.1" font-size="21.8" font-weight="bold" text-anchor="middle" textLength="24.06" lengthAdjust="spacingAndGlyphs">50</text>
<text x="1034.4" y="437.8" font-size="28.6" font-weight="bold" text-anchor="middle" textLength="208.3" lengthAdjust="spacingAndGlyphs">Pressure (GPa)</text>
<text x="779.3" y="208" font-size="28" font-weight="bold" text-anchor="middle" textLength="226" lengthAdjust="spacingAndGlyphs" transform="rotate(-90 779.3 208)">Temperature (K)</text>
<text x="1035.2" y="153.6" font-size="21.6" font-weight="bold" text-anchor="start" textLength="58.5" lengthAdjust="spacingAndGlyphs">Metal</text>
<text x="1003.4" y="294.6" font-size="21.6" font-weight="bold" text-anchor="start" textLength="185.3" lengthAdjust="spacingAndGlyphs">Superconducting</text>
<circle cx="1183.4" cy="62" r="5.4" fill="#440a5a"/>
<text x="1199.3" y="67.4" font-size="20.6" font-weight="bold" text-anchor="start" textLength="43.5" lengthAdjust="spacingAndGlyphs">LaO</text>
</g>
</svg>
</body>
</html>
